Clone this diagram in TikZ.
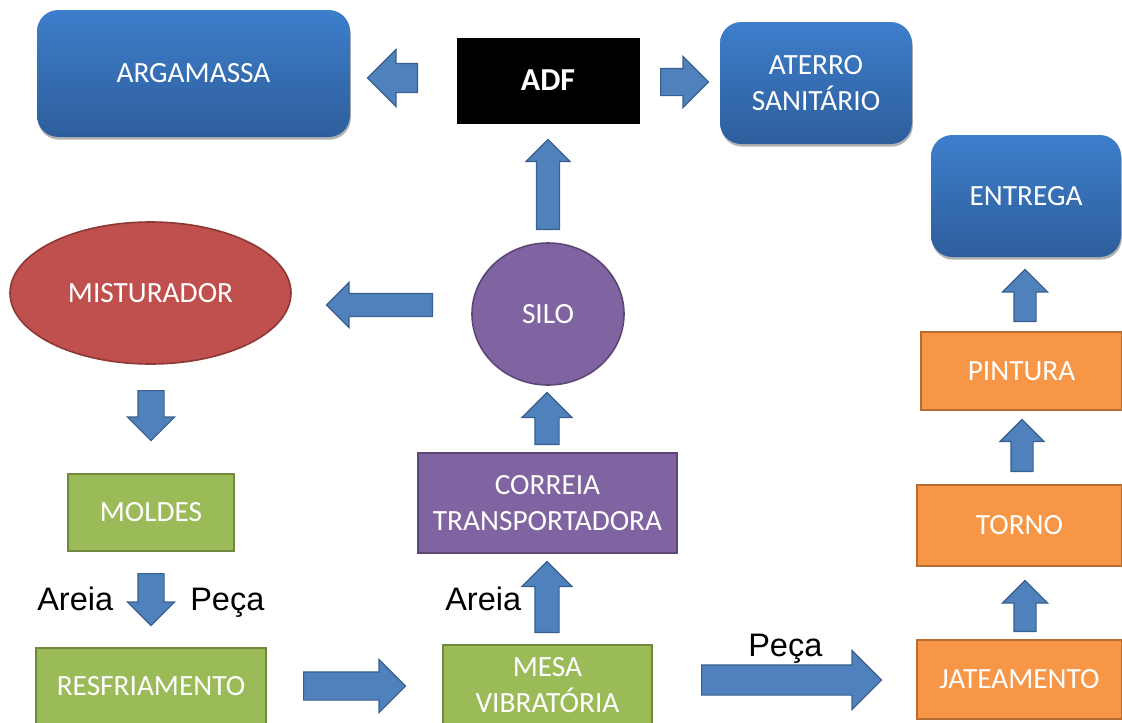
\documentclass[tikz,border=0pt]{standalone}
\usepackage{fontspec}
\setmainfont{Carlito}
\newfontfamily\arialfont{Liberation Sans}
\usetikzlibrary{shapes.geometric,shapes.arrows,shadows}

\definecolor{bluetop}{HTML}{3D7ECB}
\definecolor{bluebot}{HTML}{2E5E9C}
\definecolor{arrowblue}{HTML}{4F81BD}
\definecolor{arrowline}{HTML}{3A5F8D}
\definecolor{greenfill}{HTML}{9BBB59}
\definecolor{greenline}{HTML}{71893F}
\definecolor{orangefill}{HTML}{F79646}
\definecolor{orangeline}{HTML}{B66D31}
\definecolor{purplefill}{HTML}{8064A2}
\definecolor{purpleline}{HTML}{5C4776}
\definecolor{redfill}{HTML}{C0504D}
\definecolor{redline}{HTML}{8C3836}

\tikzset{
  sz/.style 2 args={minimum width=#1*0.75pt, minimum height=#2*0.75pt},
  boxtxt/.style={text=white, font=\fontsize{22}{27}\selectfont, align=center, inner sep=0.75pt},
  roundbox/.style={boxtxt, rectangle, rounded corners=16pt, top color=bluetop, bottom color=bluebot, draw=none,
    drop shadow={shadow xshift=0.6pt, shadow yshift=-2pt, opacity=0.3, fill=black}},
  flatbox/.style 2 args={boxtxt, rectangle, fill=#1, draw=#2, line width=1.5pt},
  roundish/.style 2 args={boxtxt, ellipse, fill=#1, draw=#2, line width=1.2pt},
  % length, shaft width, head extend (all in px)
  bluearrow/.style n args={3}{single arrow, fill=arrowblue, draw=arrowline, line width=0.9pt,
    inner xsep=0pt, inner ysep=#2*0.375pt, anchor=tail, minimum height=#1*0.75pt,
    single arrow head extend=#3*0.75pt},
  flowlabel/.style={font=\arialfont\fontsize{24.4}{28}\selectfont, inner sep=0pt, anchor=base west}
}

\begin{document}
\begin{tikzpicture}[x=0.75pt,y=0.75pt,yscale=-1,xscale=1]
\useasboundingbox (0,0) rectangle (1122,722);

%Top row
\node (arg) [roundbox, sz={313}{127}] at (193.5,73.5) {ARGAMASSA};
\node (adf) [rectangle, fill=black, draw=white, line width=3pt, sz={187}{90}, text=white,
  font=\bfseries\fontsize{24}{28}\selectfont,
  drop shadow={shadow xshift=0.5pt, shadow yshift=-1.5pt, opacity=0.3, fill=black}] at (548,80.5) {ADF};
\node (aterro) [roundbox, sz={192}{122}] at (816,83) {ATERRO\\SANITÁRIO};
\node (entrega) [roundbox, sz={190}{122}] at (1026,196) {ENTREGA};

%Middle
\node (mist) [roundish={redfill}{redline}, sz={281}{142}] at (150.5,293) {MISTURADOR};
\node (silo) [roundish={purplefill}{purpleline}, sz={152}{142}] at (548,314) {SILO};
\node (correia) [flatbox={purplefill}{purpleline}, sz={259}{100}] at (547.5,503) {CORREIA\\TRANSPORTADORA};
\node (moldes) [flatbox={greenfill}{greenline}, sz={166}{77}] at (151,512) {MOLDES};

%Right column
\node (pintura) [flatbox={orangefill}{orangeline}, sz={201}{78}] at (1021.5,371) {PINTURA};
\node (torno) [flatbox={orangefill}{orangeline}, sz={205}{81}] at (1019.5,525.5) {TORNO};
\node (jato) [flatbox={orangefill}{orangeline}, sz={205}{79}] at (1019.5,679.5) {JATEAMENTO};

%Bottom row
\node (resf) [flatbox={greenfill}{greenline}, sz={230}{76}] at (151,686) {RESFRIAMENTO};
\node (mesa) [flatbox={greenfill}{greenline}, sz={209}{80}] at (547.5,685) {MESA\\VIBRATÓRIA};

%Block arrows
\node (aArg) [bluearrow={50}{28}{14}, rotate=180] at (418,78) {};
\node (aAterro) [bluearrow={48}{26}{12}] at (660,82) {};
\node (aAdf) [bluearrow={90}{22}{10.5}, rotate=90] at (548,230) {};
\node (aMist) [bluearrow={106}{22}{11}, rotate=180] at (433,305) {};
\node (aMoldes) [bluearrow={50}{25}{10.5}, rotate=-90] at (151,390) {};
\node (aResf) [bluearrow={52}{25}{10.5}, rotate=-90] at (151,573) {};
\node (aMesa) [bluearrow={102}{27}{12.5}] at (303,686) {};
\node (aCorreia) [bluearrow={71}{23}{13}, rotate=90] at (547,633) {};
\node (aSilo) [bluearrow={52}{23}{13}, rotate=90] at (547,445) {};
\node (aJato) [bluearrow={180}{29}{14.5}] at (701,680) {};
\node (aTorno) [bluearrow={51}{21}{11.5}, rotate=90] at (1025,632) {};
\node (aPintura) [bluearrow={52}{21}{11}, rotate=90] at (1022,472) {};
\node (aEntrega) [bluearrow={52}{21}{11.5}, rotate=90] at (1025,322) {};

%Labels
\node (lAreiaA) [flowlabel] at (37,610) {Areia};
\node (lPecaA) [flowlabel] at (190,610) {Peça};
\node (lAreiaB) [flowlabel] at (445,610) {Areia};
\node (lPecaB) [flowlabel] at (748,656) {Peça};

\end{tikzpicture}
\end{document}
